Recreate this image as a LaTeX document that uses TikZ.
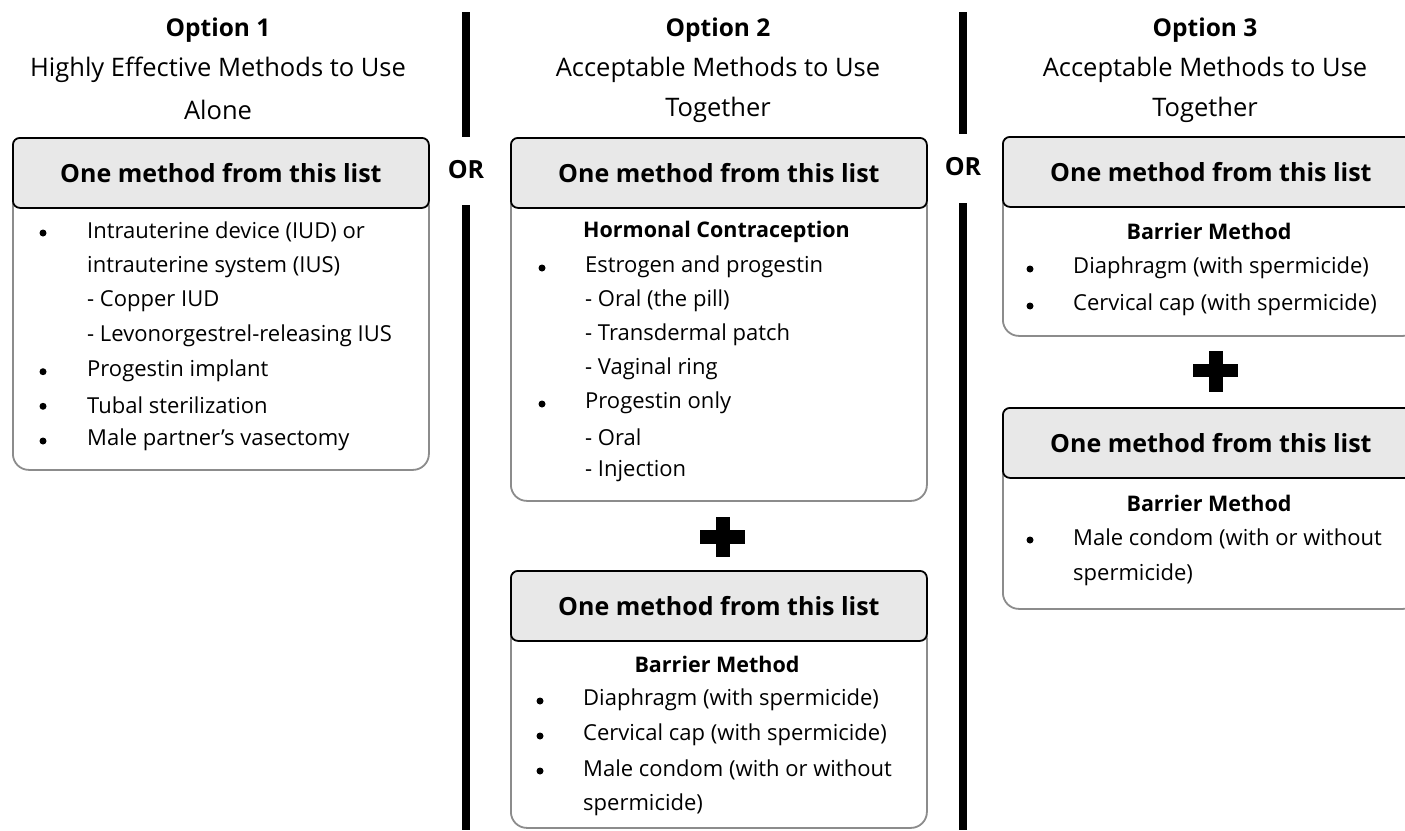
\documentclass[tikz,border=0pt]{standalone}
\usepackage{fontspec}
\setmainfont{Open Sans}
\definecolor{hdrfill}{HTML}{E8E8E8}
\definecolor{bodyline}{HTML}{8C8C8C}
\tikzset{
  hdr/.style={draw=black, line width=1.8pt, fill=hdrfill, rounded corners=7pt, minimum width=416pt, minimum height=70pt, anchor=north west, inner sep=0pt, font=\fontsize{25}{29}\selectfont\bfseries},
  bodybox/.style={draw=bodyline, line width=1.8pt, fill=white, rounded corners=16pt, minimum width=416pt, anchor=north west, inner sep=0pt},
  title/.style={font=\fontsize{24.5}{28}\selectfont\bfseries, inner sep=0pt},
  sub/.style={font=\fontsize{25.5}{29}\selectfont, inner sep=0pt},
  ortxt/.style={font=\fontsize{25}{29}\selectfont\bfseries, inner sep=0pt},
  li/.style={font=\fontsize{22}{26}\selectfont, anchor=west, inner sep=0pt},
  lib/.style={font=\fontsize{21.5}{25}\selectfont\bfseries, inner sep=0pt},
  bul/.style={circle, fill=black, inner sep=0pt, minimum size=7pt},
  bar/.style={fill=black},
  plus/.style={fill=black}
}
\begin{document}
\begin{tikzpicture}[x=1pt,y=-1pt]
\useasboundingbox (0,0) rectangle (1405,830);
\clip (0,0) rectangle (1405,830);
\fill[white] (0,0) rectangle (1405,830);

% titles
\node[title] (t1) at (218,30) {Option 1};
\node[sub] (s1a) at (218,70) {Highly Effective Methods to Use};
\node[sub] (s1b) at (218,110) {Alone};
\node[title] (t2) at (718,30) {Option 2};
\node[sub] (s2a) at (718,70) {Acceptable Methods to Use};
\node[sub] (s2b) at (718,110) {Together};
\node[title] (t3) at (1205,30) {Option 3};
\node[sub] (s3a) at (1205,70) {Acceptable Methods to Use};
\node[sub] (s3b) at (1205,110) {Together};

% separator bars
\fill[bar] (462,12) rectangle (470,137);
\fill[bar] (462,205) rectangle (470,830);
\fill[bar] (959,12) rectangle (967,134);
\fill[bar] (959,203) rectangle (967,830);
\node[ortxt] (or1) at (466,170) {OR};
\node[ortxt] (or2) at (963,167) {OR};

% column 1 box
\node[bodybox, minimum height=280pt] (b1) at (12,189) {};
\node[hdr] (h1) at (12,137) {One method from this list};
\node[bul] (b1u1) at (43,233) {};
\node[li] (b1l1) at (87,232) {Intrauterine device (IUD) or};
\node[li] (b1l2) at (87,266.7) {intrauterine system (IUS)};
\node[li] (b1l3) at (87,301.3) {- Copper IUD};
\node[li] (b1l4) at (87,336) {- Levonorgestrel-releasing IUS};
\node[bul] (b1u5) at (43,371.7) {};
\node[li] (b1l5) at (87,370.7) {Progestin implant};
\node[bul] (b1u6) at (43,406.3) {};
\node[li] (b1l6) at (87,405.3) {Tubal sterilization};
\node[bul] (b1u7) at (43,441) {};
\node[li] (b1l7) at (87,440) {Male partner’s vasectomy};

% column 2 upper box
\node[bodybox, minimum height=311pt] (b2) at (510,189) {};
\node[hdr] (h2) at (510,137) {One method from this list};
\node[lib, anchor=west] (b2h) at (583,232) {Hormonal Contraception};
\node[bul] (b2u1) at (542,268) {};
\node[li] (b2l1) at (585,267) {Estrogen and progestin};
\node[li] (b2l2) at (585,301) {- Oral (the pill)};
\node[li] (b2l3) at (585,335) {- Transdermal patch};
\node[li] (b2l4) at (585,369) {- Vaginal ring};
\node[bul] (b2u5) at (542,404) {};
\node[li] (b2l5) at (585,403) {Progestin only};
\node[li] (b2l6) at (585,437) {- Oral};
\node[li] (b2l7) at (585,471) {- Injection};

% plus col 2
\fill[plus] (700,530) rectangle (745,544);
\fill[plus] (716,517) rectangle (730,557);

% column 2 lower box
\node[bodybox, minimum height=205pt] (b3) at (510,622) {};
\node[hdr] (h3) at (510,570) {One method from this list};
\node[lib] (b3h) at (717,664) {Barrier Method};
\node[bul] (b3u1) at (540,701) {};
\node[li] (b3l1) at (583,700) {Diaphragm (with spermicide)};
\node[bul] (b3u2) at (540,736) {};
\node[li] (b3l2) at (583,735) {Cervical cap (with spermicide)};
\node[bul] (b3u3) at (540,771) {};
\node[li] (b3l3) at (583,770) {Male condom (with or without};
\node[li] (b3l4) at (583,805) {spermicide)};

% column 3 upper box
\node[bodybox, minimum height=147pt] (b4) at (1002,188) {};
\node[hdr] (h4) at (1002,136) {One method from this list};
\node[lib] (b4h) at (1209,231) {Barrier Method};
\node[bul] (b4u1) at (1030,269) {};
\node[li] (b4l1) at (1073,268) {Diaphragm (with spermicide)};
\node[bul] (b4u2) at (1030,306) {};
\node[li] (b4l2) at (1073,305) {Cervical cap (with spermicide)};

% plus col 3
\fill[plus] (1193,364) rectangle (1238,377);
\fill[plus] (1209,351) rectangle (1223,392);

% column 3 lower box
\node[bodybox, minimum height=149pt] (b5) at (1002,459) {};
\node[hdr] (h5) at (1002,407) {One method from this list};
\node[lib] (b5h) at (1209,503) {Barrier Method};
\node[bul] (b5u1) at (1030,540) {};
\node[li] (b5l1) at (1073,539) {Male condom (with or without};
\node[li] (b5l2) at (1073,575) {spermicide)};
\end{tikzpicture}
\end{document}
